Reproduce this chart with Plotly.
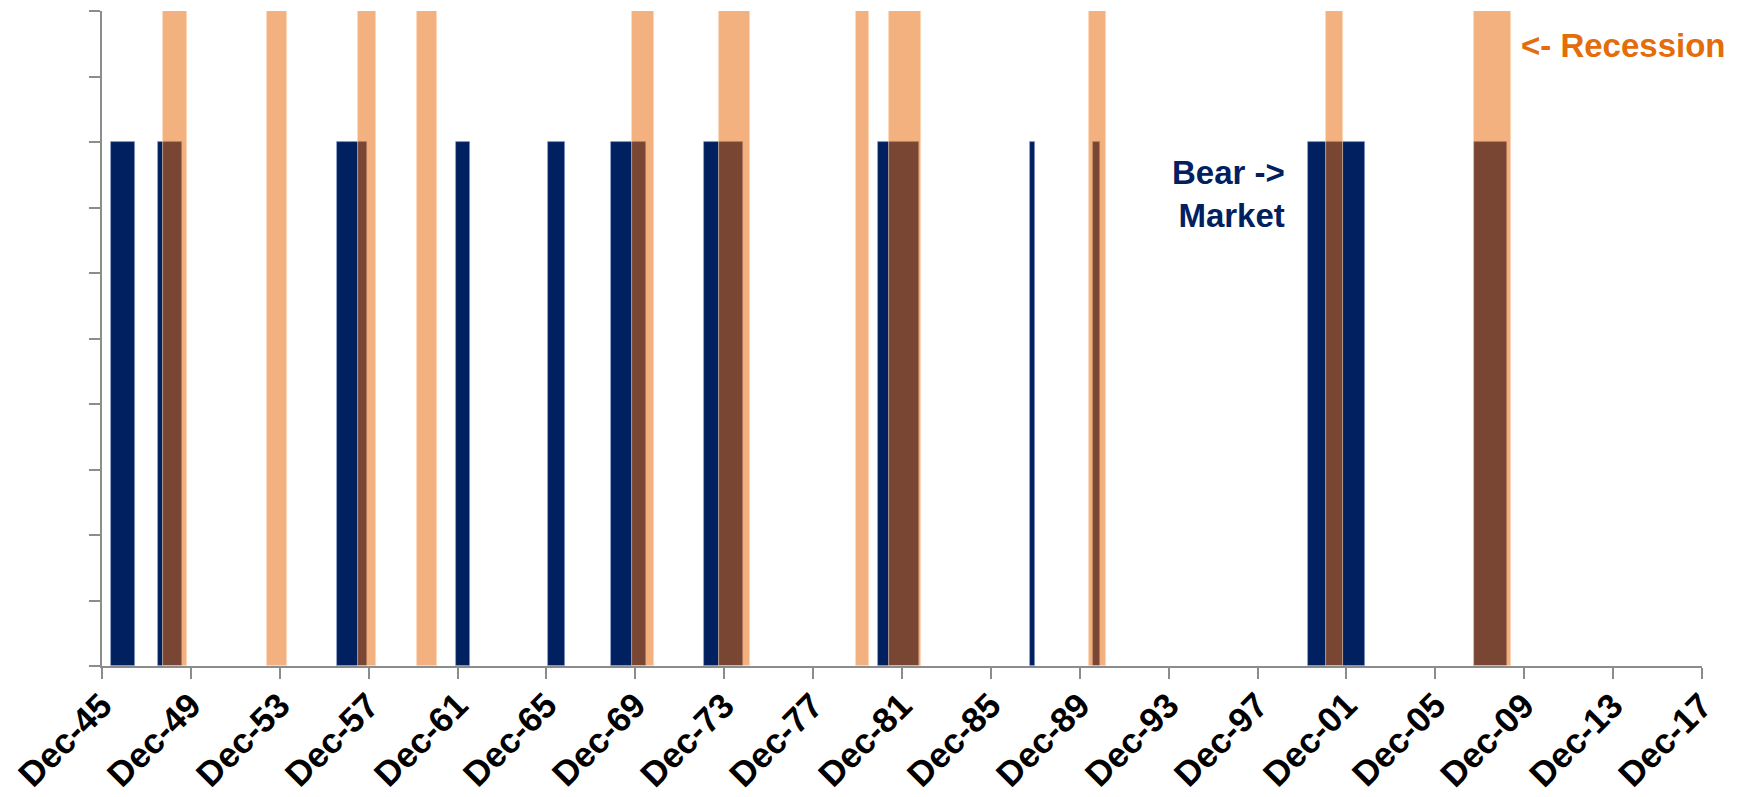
import pandas as pd
import plotly.graph_objects as go

# ---- data ----
bear_start = ["1946-05", "1948-06", "1956-07", "1961-11", "1966-01", "1968-11",
              "1973-01", "1980-11", "1987-09", "1990-07", "2000-03", "2007-09"]
bear_end = ["1947-05", "1949-06", "1957-10", "1962-06", "1966-09", "1970-05",
            "1974-09", "1982-08", "1987-11", "1990-10", "2002-09", "2009-02"]
bear_value = 0.8

rec_start = ["1948-09", "1953-05", "1957-06", "1960-02", "1969-10", "1973-09",
             "1979-11", "1981-05", "1990-05", "2001-01", "2007-09"]
rec_end = ["1949-09", "1954-03", "1958-03", "1960-12", "1970-09", "1975-01",
           "1980-05", "1982-09", "1991-01", "2001-09", "2009-04"]
rec_value = 1.0

tick_dates = ["1945-12-01", "1949-12-01", "1953-12-01", "1957-12-01", "1961-12-01",
              "1965-12-01", "1969-12-01", "1973-12-01", "1977-12-01", "1981-12-01",
              "1985-12-01", "1989-12-01", "1993-12-01", "1997-12-01", "2001-12-01",
              "2005-12-01", "2009-12-01", "2013-12-01", "2017-12-01"]
tick_labels = ["Dec-45", "Dec-49", "Dec-53", "Dec-57", "Dec-61", "Dec-65", "Dec-69",
               "Dec-73", "Dec-77", "Dec-81", "Dec-85", "Dec-89", "Dec-93", "Dec-97",
               "Dec-01", "Dec-05", "Dec-09", "Dec-13", "Dec-17"]


def spans(starts, ends):
    s = pd.to_datetime(starts)
    e = pd.to_datetime(ends) + pd.offsets.MonthBegin(1)
    centers = s + (e - s) / 2
    widths = (e - s).total_seconds() * 1000.0
    return list(centers), list(widths)


bear_x, bear_w = spans(bear_start, bear_end)
rec_x, rec_w = spans(rec_start, rec_end)

FONT = "Arial, 'Liberation Sans', sans-serif"
NAVY = "#002060"
ORANGE_TXT = "#E46C0A"

fig = go.Figure()
fig.add_trace(go.Bar(
    x=bear_x, y=[bear_value] * len(bear_x), width=bear_w,
    marker=dict(color=NAVY, line=dict(width=0.8, color="rgba(140,160,205,0.7)")),
    name="Bear Market", showlegend=False,
))
fig.add_trace(go.Bar(
    x=rec_x, y=[rec_value] * len(rec_x), width=rec_w,
    marker=dict(color="rgba(230,105,8,0.52)", line=dict(width=0.8, color="rgba(250,215,185,0.8)")),
    name="Recession", showlegend=False,
))

# rotated date labels placed under each tick
tick_annots = [
    dict(text=lab, x=d, xref="x", y=0, yref="paper",
         xanchor="right", yanchor="top", xshift=20, yshift=-16,
         textangle=-45, showarrow=False,
         font=dict(family=FONT, size=35, color="black", weight="bold"))
    for d, lab in zip(tick_dates, tick_labels)
]

fig.update_layout(
    width=1739, height=797,
    margin=dict(l=102, r=37, t=11, b=131),
    paper_bgcolor="white", plot_bgcolor="white",
    barmode="overlay", bargap=0,
    font=dict(family=FONT),
    xaxis=dict(
        type="date", range=["1945-12-01", "2017-12-01"],
        tickmode="array", tickvals=tick_dates, showticklabels=False,
        ticks="outside", ticklen=11, tickwidth=2, tickcolor="#8c8c8c",
        showline=True, linecolor="#8c8c8c", linewidth=2,
        showgrid=False, zeroline=False, automargin=False,
    ),
    yaxis=dict(
        range=[0, 1], tickmode="linear", tick0=0, dtick=0.1,
        showticklabels=False,
        ticks="outside", ticklen=11, tickwidth=2, tickcolor="#8c8c8c",
        showline=True, linecolor="#8c8c8c", linewidth=2,
        showgrid=False, zeroline=False, automargin=False,
    ),
    annotations=tick_annots + [
        dict(text="<b>Bear -&gt;<br>Market</b>", xref="paper", yref="paper",
             x=0.7405, y=0.72, xanchor="right", yanchor="middle", align="right",
             showarrow=False, font=dict(family=FONT, size=33, color=NAVY)),
        dict(text="<b>&lt;- Recession</b>", xref="paper", yref="paper",
             x=0.8855, y=0.948, xanchor="left", yanchor="middle", align="left",
             showarrow=False, font=dict(family=FONT, size=33, color=ORANGE_TXT)),
    ],
)

fig.write_html("out.html")
